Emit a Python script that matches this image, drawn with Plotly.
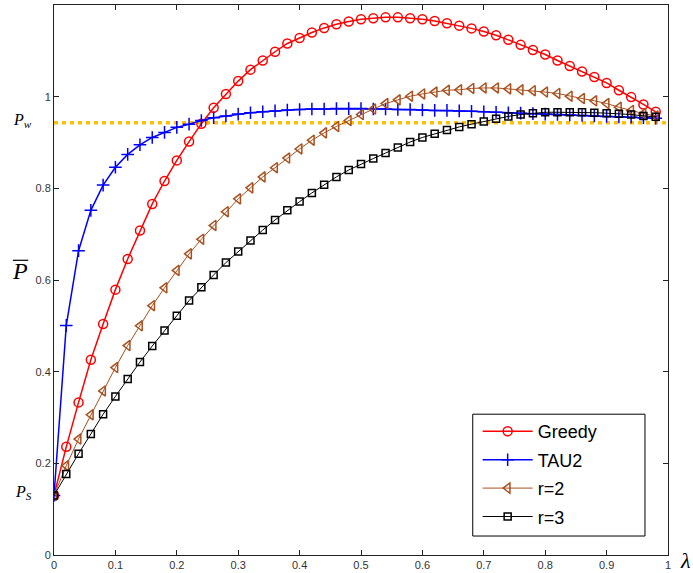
import plotly.graph_objects as go

lam = [round(0.02 * i, 2) for i in range(50)]

greedy = [0.13, 0.236, 0.333, 0.426, 0.504, 0.579, 0.646, 0.708, 0.766, 0.816,
          0.861, 0.902, 0.941, 0.976, 1.006, 1.034, 1.059, 1.079, 1.098, 1.116,
          1.128, 1.140, 1.150, 1.158, 1.164, 1.169, 1.171, 1.173, 1.173, 1.171,
          1.169, 1.165, 1.160, 1.155, 1.149, 1.142, 1.134, 1.124, 1.113, 1.102,
          1.092, 1.079, 1.067, 1.055, 1.043, 1.030, 1.014, 0.999, 0.983, 0.967]

tau2 = [0.13, 0.501, 0.664, 0.752, 0.807, 0.846, 0.874, 0.895, 0.911, 0.922,
        0.933, 0.940, 0.948, 0.954, 0.958, 0.962, 0.965, 0.967, 0.969, 0.971,
        0.972, 0.973, 0.973, 0.974, 0.974, 0.974, 0.973, 0.973, 0.972, 0.972,
        0.971, 0.970, 0.970, 0.969, 0.968, 0.967, 0.966, 0.965, 0.964, 0.963,
        0.962, 0.961, 0.960, 0.959, 0.958, 0.957, 0.956, 0.955, 0.954, 0.953]

r2 = [0.13, 0.195, 0.253, 0.306, 0.358, 0.409, 0.457, 0.500, 0.544, 0.583,
      0.621, 0.657, 0.689, 0.719, 0.749, 0.777, 0.801, 0.825, 0.845, 0.866,
      0.886, 0.905, 0.921, 0.935, 0.948, 0.961, 0.973, 0.985, 0.993, 1.001,
      1.006, 1.010, 1.014, 1.015, 1.018, 1.019, 1.019, 1.017, 1.015, 1.013,
      1.010, 1.007, 1.001, 0.996, 0.991, 0.985, 0.977, 0.970, 0.963, 0.958]

r3 = [0.13, 0.177, 0.221, 0.264, 0.307, 0.346, 0.384, 0.421, 0.456, 0.490,
      0.522, 0.555, 0.584, 0.611, 0.638, 0.662, 0.686, 0.709, 0.731, 0.752,
      0.771, 0.790, 0.808, 0.825, 0.840, 0.853, 0.865, 0.877, 0.889, 0.901,
      0.911, 0.919, 0.927, 0.934, 0.940, 0.946, 0.952, 0.957, 0.961, 0.964,
      0.966, 0.966, 0.966, 0.966, 0.965, 0.964, 0.963, 0.961, 0.958, 0.956]

p_w = 0.943
p_s = 0.13

x_ticks = [0, 0.1, 0.2, 0.3, 0.4, 0.5, 0.6, 0.7, 0.8, 0.9, 1]
x_tick_text = ["0", "0.1", "0.2", "0.3", "0.4", "0.5", "0.6", "0.7", "0.8", "0.9", "1"]
y_ticks = [0, 0.2, 0.4, 0.6, 0.8, 1]
y_tick_text = ["0", "0.2", "0.4", "0.6", "0.8", "1"]

fig = go.Figure()

# P_w reference line
fig.add_trace(go.Scatter(x=[0, 1], y=[p_w, p_w], mode="lines",
                         line=dict(color="#FFC000", width=3.5, dash="4px,4px"),
                         showlegend=False, hoverinfo="skip"))

series = [
    ("Greedy", greedy, "#FF0000", "circle-open", 9, 1.5),
    ("TAU2", tau2, "#0000FF", "cross-thin-open", 9, 1.5),
    ("r=2", r2, "#A9501E", "triangle-left-open", 9, 1.0),
    ("r=3", r3, "#000000", "square-open", 7, 1.0),
]
for i, (name, ys, col, sym, ms, lw) in enumerate(series):
    fig.add_trace(go.Scatter(
        x=lam, y=ys, mode="lines+markers", name=name, legendgroup=f"g{i}",
        line=dict(color=col, width=lw),
        marker=dict(symbol=sym, size=ms, color=col, line=dict(color=col, width=1.5)),
    ))

axis_common = dict(showline=True, linecolor="#222222", linewidth=1, mirror="allticks",
                   ticks="inside", ticklen=5, tickcolor="#222222", showgrid=False,
                   zeroline=False, automargin=False,
                   tickfont=dict(family="Liberation Sans, Arial", size=11, color="#333333"))

fig.update_xaxes(range=[0, 1], tickvals=x_ticks, ticktext=x_tick_text, **axis_common)
fig.update_yaxes(range=[0, 1.2], tickvals=y_ticks, ticktext=y_tick_text, **axis_common)

serif = "Liberation Serif, Times New Roman, serif"
annotations = [
    dict(text="<i>P</i><sub><i>w</i></sub>", xref="paper", yref="y", x=-0.032, y=p_w + 0.005,
         showarrow=False, font=dict(family=serif, size=16, color="black"), xanchor="right"),
    dict(text="<i>P</i><sub><i>S</i></sub>", xref="paper", yref="y", x=-0.032, y=p_s + 0.007,
         showarrow=False, font=dict(family=serif, size=16, color="black"), xanchor="right"),
    dict(text="<i>P</i>", xref="paper", yref="y", x=-0.055, y=0.62,
         showarrow=False, font=dict(family=serif, size=24, color="black"), xanchor="center"),
    dict(text="<i>λ</i>", xref="paper", yref="paper", x=1.016, y=-0.01,
         showarrow=False, font=dict(family=serif, size=22, color="black"), xanchor="left",
         yanchor="middle"),
]
shapes = [
    dict(type="line", xref="paper", yref="y", x0=-0.067, x1=-0.042, y0=0.643, y1=0.643,
         line=dict(color="black", width=1.2)),
    # legend frame
    dict(type="rect", xref="paper", yref="paper", x0=0.682, x1=0.9625, y0=0.0345, y1=0.256,
         fillcolor="white", line=dict(color="black", width=1), layer="above"),
]
fig.update_layout(
    width=693, height=573,
    margin=dict(l=54, r=25, t=5, b=18, autoexpand=False),
    paper_bgcolor="white", plot_bgcolor="white",
    annotations=annotations,
    shapes=shapes,
    legend=dict(x=0.69, y=0.258, xanchor="left", yanchor="top",
                bgcolor="rgba(0,0,0,0)", borderwidth=0,
                font=dict(family="Liberation Sans, Arial", size=18, color="black"),
                traceorder="grouped", tracegroupgap=2, itemwidth=50),
    showlegend=True,
)

fig.write_html("out.html", config={"displayModeBar": False},
               post_script="document.body.style.margin='0';")
